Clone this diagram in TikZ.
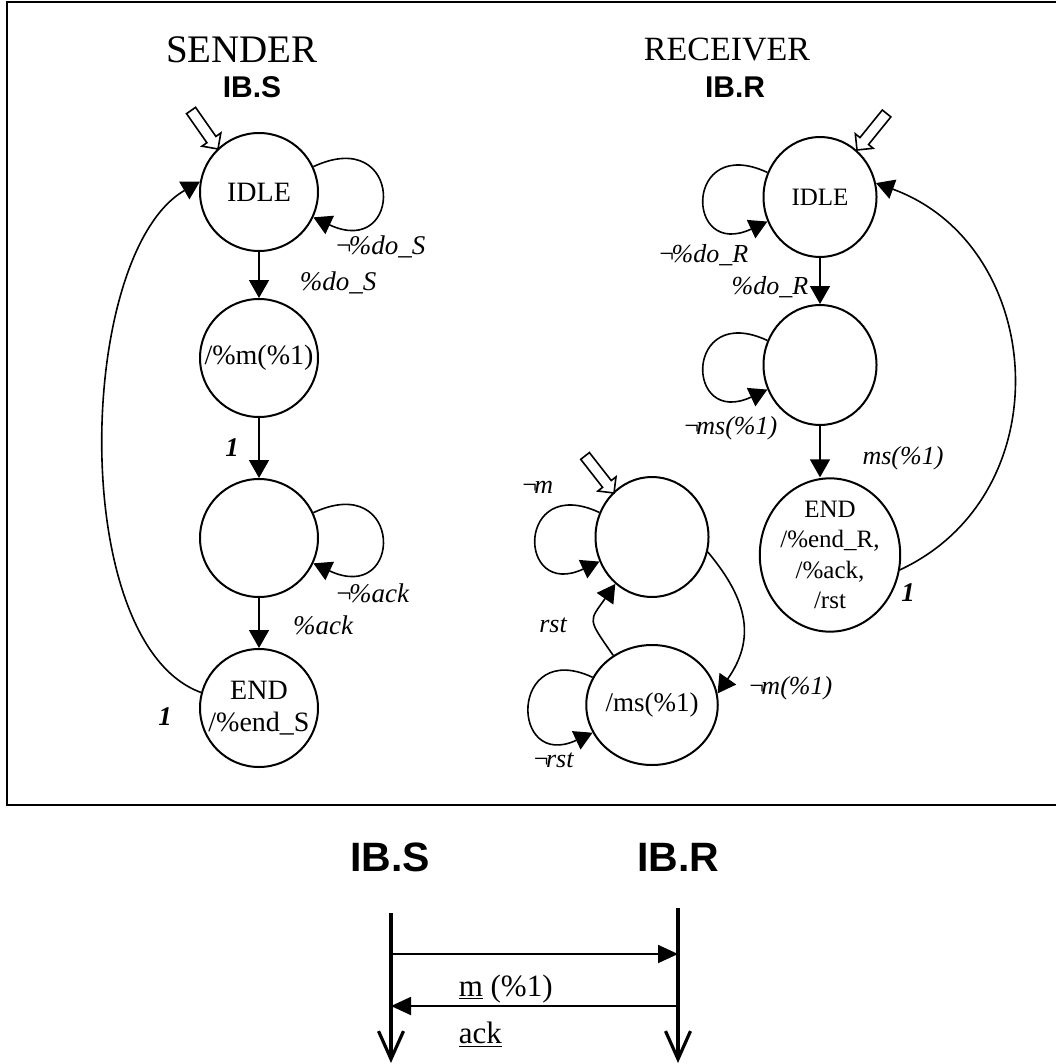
\documentclass[tikz,border=0pt]{standalone}
\usepackage{fontspec}
\setmainfont{Liberation Serif}
\setsansfont{Liberation Sans}
\usetikzlibrary{arrows.meta,shapes.geometric}
\newcommand\nsign{¬\kern-.15em}
\tikzset{initarr/.pic={\draw[fill=white, line width=.8pt] (0,0) -- (-11.5,11.5) -- (-11.5,5.5) -- (-47,5.5) -- (-47,-5.5) -- (-11.5,-5.5) -- (-11.5,-11.5) -- cycle;}}
\begin{document}
\begin{tikzpicture}[x=.5pt, y=.5pt, line width=.8pt, >={Triangle[length=9pt,width=10pt]},
        sstate/.style={draw, circle, line width=1pt, minimum size=59pt, inner sep=0pt, align=center, font=\fontsize{14}{16}\selectfont},
        rstate/.style={sstate, ellipse, minimum width=56.5pt, minimum height=60pt, font=\fontsize{12.5}{15}\selectfont},
        lbl/.style={inner sep=0pt, font=\fontsize{13.5}{15}\selectfont\itshape},
        rlbl/.style={lbl, font=\fontsize{13}{15}\selectfont\itshape},
        one/.style={inner sep=0pt, font=\fontsize{13.5}{15}\selectfont\bfseries\itshape},
        ib/.style={font=\sffamily\bfseries\fontsize{15}{17}\selectfont},
        life/.style={line width=1.6pt, -{Straight Barb[length=14pt,width=12.5pt]}},
        msg/.style={line width=.9pt, -{Triangle[length=10pt,width=9pt]}}]
        \useasboundingbox (0,0) rectangle (1056,-1064);
        \draw[line width=1pt] (1056,-2) -- (7,-2) -- (7,-805) -- (1056,-805);
        \node[font=\fontsize{19.5}{22}\selectfont] (sendt) at (242,-50) {SENDER};
        \node[ib] (sendib) at (252,-87) {IB.S};
        \node[font=\fontsize{17}{20}\selectfont] (recvt) at (727,-50) {RECEIVER};
        \node[ib] (recvib) at (735,-87) {IB.R};
        \node[sstate] (s1) at (259,-192) {IDLE};
        \node[sstate] (s2) at (259,-358) {/\%m(\%1)};
        \node[sstate] (s3) at (259,-538) {};
        \node[sstate] (s4) at (259,-708) {END\\/\%end\_S};
        \node[rstate] (r1) at (820,-197) {IDLE};
        \node[rstate] (r2) at (820,-365) {};
        \node[rstate, minimum width=67.5pt, minimum height=72pt, font=\fontsize{12.5}{15.3}\selectfont] (r3) at (830,-555) {END\\/\%end\_R,\\/\%ack,\\/rst};
        \node[rstate] (a1) at (652,-537) {};
        \node[rstate, font=\fontsize{13.5}{15}\selectfont] (a2) at (652,-705) {/ms(\%1)};
        \pic[rotate=-55] (is) at (218,-149) {initarr};
        \pic[rotate=-129] (ir) at (857,-150) {initarr};
        \pic[rotate=-52] (ia) at (614,-493) {initarr};
        \draw[->] (s1) -- (s2);
        \draw[->] (s2) -- (s3);
        \draw[->] (s3) -- (s4);
        \draw[->] (s4.165) .. controls +(160:143) and +(210:143) .. (s1.170);
        \draw[->] (r1) -- (r2);
        \draw[->] (r2.south) -- (r2.south |- r3.north);
        \draw[->] (r3.-12) .. controls +(25:181) and +(-20:181) .. (r1.14);
        \draw[->] (a1.-15) .. controls +(-50:65) and +(55:65) .. (a2.10);
        \draw[->] (a2.128) .. controls +(125:46) and +(235:46) .. (a1.-128);
        \foreach \n in {s1,s3}
        {
            \draw[->] (\n) to[out=25, in=-25, min distance=50pt] (\n);
        }
        \foreach \n in {r1,r2,a1,a2}
        {
            \draw[->] (\n) to[out=155, in=-155, min distance=46pt] (\n);
        }
        \node[lbl] (ldos1) at (380,-247) {\nsign\%do\_S};
        \node[lbl] (ldos) at (338,-283) {\%do\_S};
        \node[one] (lone1) at (232,-448) {1};
        \node[lbl] (lack1) at (372,-593) {\nsign\%ack};
        \node[lbl] (lack) at (323,-625) {\%ack};
        \node[one] (lone2) at (165,-717) {1};
        \node[rlbl] (ldor1) at (703,-255) {\nsign\%do\_R};
        \node[rlbl] (ldor) at (770,-287) {\%do\_R};
        \node[rlbl] (lms1) at (730,-428) {\nsign ms(\%1)};
        \node[rlbl] (lms) at (903,-458) {ms(\%1)};
        \node[one] (lone3) at (908,-593) {1};
        \node[rlbl] (lm) at (537,-487) {\nsign m};
        \node[rlbl] (lrst) at (553,-625) {rst};
        \node[rlbl] (lm1) at (790,-688) {\nsign m(\%1)};
        \node[rlbl] (lrst1) at (553,-760) {\nsign rst};
        \node[ib, font=\sffamily\bfseries\fontsize{20.5}{23}\selectfont] (bs) at (390,-857) {IB.S};
        \node[ib, font=\sffamily\bfseries\fontsize{20.5}{23}\selectfont] (br) at (678,-857) {IB.R};
        \coordinate (sT) at (391,-913);
        \coordinate (sB) at (391,-1063);
        \coordinate (rT) at (678,-908);
        \coordinate (rB) at (678,-1063);
        \coordinate (m1s) at (391,-954);
        \coordinate (m1r) at (678,-954);
        \coordinate (m2r) at (678,-1006);
        \coordinate (m2s) at (391,-1006);
        \draw[life] (sT) -- (sB);
        \draw[life] (rT) -- (rB);
        \draw[msg] (m1s) -- (m1r);
        \draw[msg] (m2r) -- (m2s);
        \node[anchor=base west, inner sep=0pt, font=\fontsize{15.5}{18}\selectfont] (lmsg) at (458,-996) {\underline{m} (\%1)};
        \node[anchor=base west, inner sep=0pt, font=\fontsize{15.5}{18}\selectfont] (lackm) at (458,-1043) {\underline{ack}};
\end{tikzpicture}
\end{document}
